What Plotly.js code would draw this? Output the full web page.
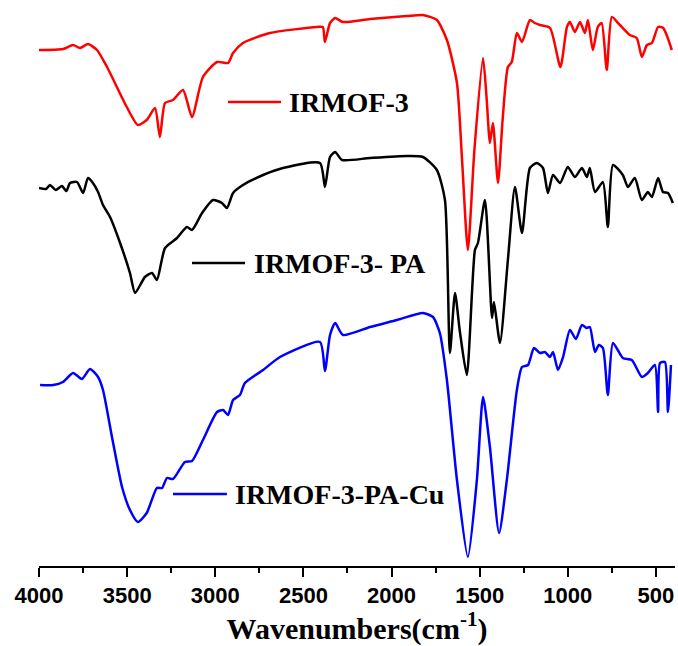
<!DOCTYPE html>
<html>
<head>
<meta charset="utf-8">
<script src="https://cdn.plot.ly/plotly-3.0.1.min.js"></script>
<style>html,body{margin:0;padding:0;background:#fff;}#chart{width:678px;height:646px;}</style>
</head>
<body>
<div id="chart"></div>
<script>
// Series names
const seriesNames = ["IRMOF-3", "IRMOF-3- PA", "IRMOF-3-PA-Cu"];
const seriesColors = ["#ff0000", "#000000", "#0000ff"];

// IRMOF-3 (red), wavenumbers and offset transmittance (a.u.)
const wnRed = [4000,3864,3807,3767,3722,3671,3614,3502,3439,3389,3342,3314,3285,3240,3183,3132,3070,2990,2928,2899,2843,2690,2423,2390,2378,2349,2320,2276,2122,1913,1822,1743,1686,1629,1600,1567,1530,1481,1460,1442,1425,1396,1370,1340,1318,1289,1260,1215,1188,1158,1101,1042,1005,988,960,931,903,886,858,830,808,779,750,705,648,609,580,551,523,488,459,410];
const tRed  = [516,517,521,518,522,516,499,459,441,446,458,429,463,466,476,449,489,504,503,513,523,533,539,539,524,543,548,544,547,550,551,546,526,483,406,316,416,508,466,423,443,383,446,499,504,533,524,546,543,541,538,499,539,544,534,544,533,546,516,539,543,496,549,541,531,528,509,521,523,539,538,516];

// IRMOF-3-PA (black)
const wnBlack = [4000,3960,3938,3905,3870,3845,3824,3784,3750,3722,3694,3665,3637,3597,3540,3484,3455,3399,3359,3331,3285,3217,3161,3132,3075,3013,2962,2934,2899,2843,2729,2616,2406,2378,2349,2320,2281,2122,1913,1822,1743,1697,1669,1640,1612,1573,1527,1510,1470,1430,1419,1385,1340,1300,1260,1215,1176,1141,1113,1084,1044,1000,960,920,892,875,846,801,773,744,688,659,620,580,546,523,488,460,432,404];
const tBlack  = [378,377,381,376,380,375,383,384,373,388,383,374,361,349,323,293,273,289,293,286,318,328,339,336,353,366,363,358,373,381,391,398,403,379,409,414,406,408,410,409,396,366,213,273,234,191,316,323,366,248,264,223,306,379,333,398,403,398,373,391,383,399,389,398,389,398,374,384,339,401,391,379,388,366,374,369,388,374,373,363];

// IRMOF-3-PA-Cu (blue)
const wnBlue = [3994,3920,3864,3807,3756,3711,3665,3637,3586,3529,3484,3439,3389,3331,3302,3274,3240,3172,3132,3070,2990,2956,2928,2899,2860,2832,2729,2633,2406,2378,2349,2320,2276,2122,1969,1822,1765,1726,1686,1629,1567,1516,1481,1442,1390,1346,1289,1260,1226,1192,1158,1130,1101,1084,1056,1027,988,954,920,892,875,846,824,801,773,744,688,637,580,546,506,488,477,449,432,415];
const tBlue  = [181,181,184,193,187,197,189,176,129,79,56,44,53,78,78,88,87,104,105,126,154,156,151,166,171,183,196,209,224,195,231,243,231,239,246,253,249,233,186,86,9,86,169,119,33,86,176,199,201,218,213,214,209,214,196,209,236,227,241,238,239,214,221,218,171,223,208,206,189,193,201,154,203,204,154,201];

// Axis ticks
const tickVals = [4000,3500,3000,2500,2000,1500,1000,500];
const tickText = ["4000","3500","3000","2500","2000","1500","1000","500"];
const minorTickVals = [3750,3250,2750,2250,1750,1250,750];

const xs = [wnRed, wnBlack, wnBlue];
const ys = [tRed, tBlack, tBlue];

const traces = xs.map((x, i) => ({
  x: x, y: ys[i], type: "scatter", mode: "lines",
  name: seriesNames[i],
  line: {color: seriesColors[i], width: 2.5, shape: "spline", smoothing: 0.6},
  showlegend: false, hoverinfo: "skip"
}));

// inline labels (legend-like)
const labelPos = [
  {x0: 2928, x1: 2627, y: 464, tx: 2593},
  {x0: 3132, x1: 2831, y: 303, tx: 2792},
  {x0: 3240, x1: 2934, y: 72, tx: 2899}
];
const shapes = labelPos.map((p, i) => ({
  type: "line", xref: "x", yref: "y", x0: p.x0, x1: p.x1, y0: p.y, y1: p.y,
  line: {color: seriesColors[i], width: 2.5}
}));
const annotations = labelPos.map((p, i) => ({
  x: p.tx, y: p.y, xref: "x", yref: "y", text: seriesNames[i], showarrow: false,
  xanchor: "left", yanchor: "middle",
  font: {family: "Liberation Serif", size: 28, color: "#000", weight: "bold"}
}));

const layout = {
  width: 678, height: 646,
  margin: {l: 39, r: 3, t: 0, b: 80},
  paper_bgcolor: "#fff", plot_bgcolor: "#fff",
  showlegend: false,
  xaxis: {
    range: [4000, 392], autorange: false,
    tickvals: tickVals, ticktext: tickText,
    ticks: "outside", ticklen: 9, tickwidth: 2, tickcolor: "#000",
    minor: {tickvals: minorTickVals, ticks: "outside", ticklen: 5, tickwidth: 2, tickcolor: "#000"},
    showline: true, linecolor: "#000", linewidth: 2,
    showgrid: false, zeroline: false,
    tickfont: {family: "Liberation Sans", size: 22, color: "#000", weight: "bold"},
    title: {text: "Wavenumbers(cm<sup>-1</sup>)", standoff: 6,
            font: {family: "Liberation Serif", size: 30, color: "#000", weight: "bold"}}
  },
  yaxis: {visible: false, range: [0, 566], autorange: false, showgrid: false, zeroline: false},
  shapes: shapes,
  annotations: annotations
};

Plotly.newPlot("chart", traces, layout, {displayModeBar: false, staticPlot: true});
</script>
</body>
</html>
